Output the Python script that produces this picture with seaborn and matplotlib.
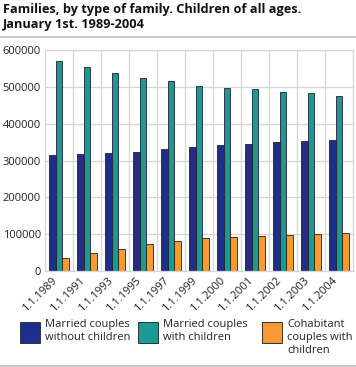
import numpy as np
import pandas as pd
import matplotlib
matplotlib.use("Agg")
import matplotlib.pyplot as plt
import matplotlib.transforms as mtransforms
from matplotlib.lines import Line2D
from matplotlib.patches import Rectangle
import seaborn as sns

# data
dates = ["1.1.1989", "1.1.1991", "1.1.1993", "1.1.1995", "1.1.1997", "1.1.1999",
         "1.1.2000", "1.1.2001", "1.1.2002", "1.1.2003", "1.1.2004"]
married_no_children = [313700, 316400, 319200, 321900, 330000, 337100,
                       340900, 344400, 349100, 352600, 355300]
married_with_children = [570900, 554600, 536700, 523100, 514900, 501300,
                         497500, 493200, 485800, 482300, 474900]
cohabitant_with_children = [36400, 48900, 59800, 74500, 81600, 90800,
                            93500, 94300, 97100, 99800, 104400]
series_names = ["Married couples\nwithout children",
                "Married couples\nwith children",
                "Cohabitant\ncouples with\nchildren"]
colors = ["#1c2f8e", "#1a9a97", "#f79a32"]

df = pd.DataFrame({
    "date": dates * 3,
    "value": married_no_children + married_with_children + cohabitant_with_children,
    "series": [series_names[0]] * len(dates) + [series_names[1]] * len(dates)
              + [series_names[2]] * len(dates),
})

sns.set_style("white")
plt.rcParams["font.family"] = ["Open Sans", "DejaVu Sans"]

W, H = 356, 367
fig = plt.figure(figsize=(W / 100, H / 100), dpi=100)
ax = fig.add_axes([45 / W, 1 - 271 / H, (353 - 45) / W, (271 - 50) / H])

sns.barplot(data=df, x="date", y="value", hue="series", palette=colors,
            width=0.72, ax=ax, edgecolor="#222222", linewidth=0.6,
            saturation=1, legend=False)

ax.set_ylim(0, 600000)
ax.set_xlim(-0.5, len(dates) - 0.5)
ax.set_yticks(np.arange(0, 600001, 100000))
ax.set_yticklabels([str(v) for v in range(0, 600001, 100000)], fontsize=8, color="#222222")
ax.set_xticks(range(len(dates)))
ax.set_xticklabels(dates, rotation=45, ha="right", va="top", fontsize=8, color="#222222")
shift = mtransforms.ScaledTranslation(4 / 72, 0, fig.dpi_scale_trans)
for lab in ax.get_xticklabels():
    lab.set_transform(lab.get_transform() + shift)
ax.set_xticks(np.arange(0.5, len(dates) - 0.5, 1), minor=True)
ax.tick_params(axis="both", which="both", length=0, pad=3)
ax.set_xlabel("")
ax.set_ylabel("")
ax.set_axisbelow(True)
ax.grid(axis="y", which="major", color="#d6d6d6", linewidth=0.9)
ax.grid(axis="x", which="minor", color="#d6d6d6", linewidth=0.9)
for s in ax.spines.values():
    s.set_color("#d6d6d6")
    s.set_linewidth(0.9)

fig.text(3 / W, 1 - 3 / H, "Families, by type of family. Children of all ages.\nJanuary 1st. 1989-2004",
         fontsize=9.2, fontweight="bold", va="top", ha="left", linespacing=1.2, color="#111111")
fig.add_artist(Line2D([0, 1], [1 - 36.5 / H, 1 - 36.5 / H], color="#c4c4c4", linewidth=1.3))
fig.add_artist(Line2D([0, 1], [1 - 365.5 / H, 1 - 365.5 / H], color="#c4c4c4", linewidth=1.3))

# legend: swatch tops aligned with first text line
legend_x = [20, 138, 262]
for x0, name, c in zip(legend_x, series_names, colors):
    fig.add_artist(Rectangle((x0 / W, 1 - 343 / H), 20 / W, 21 / H, transform=fig.transFigure,
                             facecolor=c, edgecolor="#333333", linewidth=0.7))
    fig.text((x0 + 25) / W, 1 - 319 / H, name, fontsize=8, va="top", ha="left",
             linespacing=1.25, color="#222222")

fig.savefig("out.png", dpi=100, facecolor="white")
